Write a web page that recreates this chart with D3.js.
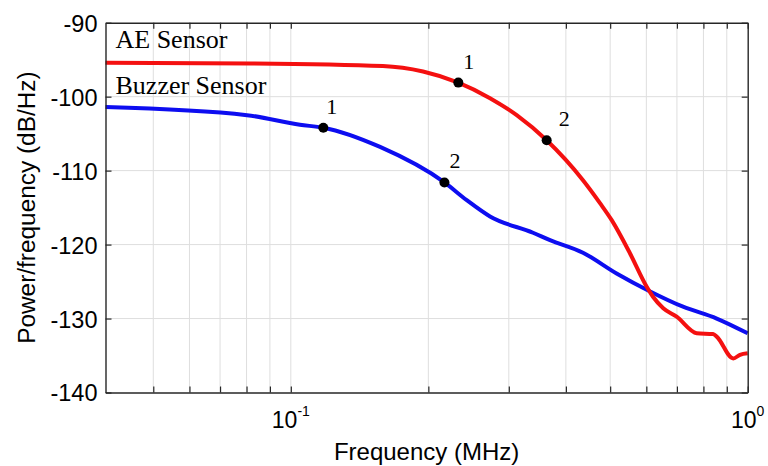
<!DOCTYPE html>
<html>
<head>
<meta charset="utf-8">
<script src="https://cdn.jsdelivr.net/npm/d3@7"></script>
<style>
  body { margin: 0; background: #fff; }
  svg { display: block; }
  .tick-lbl, .axis-label { font-family: "Liberation Sans", Arial, sans-serif; fill: #000; }
  .serif { font-family: "Liberation Serif", "Times New Roman", serif; fill: #000; }
</style>
</head>
<body>
<svg width="768" height="466"></svg>
<script>
(function (d3) {
  'use strict';

  // AE sensor PSD (frequency in MHz, power in dB/Hz)
  const aeFreq = [0.0393, 0.0814, 0.159, 0.1947, 0.2326, 0.2729, 0.3122, 0.3631, 0.436, 0.475,
    0.5039, 0.5527, 0.6011, 0.6205, 0.6534, 0.699, 0.7733, 0.8397, 0.8554, 0.93, 0.9619, 1.0];
  const aePsd = [-95.4, -95.5, -95.85, -96.6, -98.1, -100.2, -102.5, -105.9, -111.3, -114.4,
    -116.7, -121.2, -125.7, -127.05, -128.6, -129.75, -131.99, -132.1, -132.45, -135.4, -134.9, -134.7];

  // Buzzer sensor PSD
  const buzFreq = [0.0393, 0.0802, 0.1047, 0.1178, 0.1568, 0.2169, 0.2427, 0.2729, 0.3389, 0.3693,
    0.436, 0.5164, 0.6101, 0.7219, 0.8554, 1.0];
  const buzPsd = [-101.4, -102.5, -103.8, -104.2, -106.8, -111.6, -114.0, -116.2, -118.4, -119.4,
    -121.1, -123.9, -126.3, -128.4, -130.0, -132.0];

  // marked points
  const aeMarkFreq = [0.2326, 0.3631];
  const aeMarkPsd = [-98.1, -105.9];
  const buzMarkFreq = [0.1178, 0.2169];
  const buzMarkPsd = [-104.2, -111.6];
  const markLabels = ['1', '2'];

  const yTicks = [-140, -130, -120, -110, -100, -90];
  const xMajor = [0.1, 1];
  const xMinor = [0.05, 0.06, 0.07, 0.08, 0.09, 0.1, 0.2, 0.3, 0.4, 0.5, 0.6, 0.7, 0.8, 0.9, 1];
  const xExp = ['-1', '0'];

  const svg = d3.select('svg');
  const width = +svg.attr('width');
  const height = +svg.attr('height');
  const margin = { top: 22.7, right: 20.3, bottom: 73.5, left: 105.5 };
  const innerWidth = width - margin.left - margin.right;
  const innerHeight = height - margin.top - margin.bottom;

  const xScale = d3.scaleLog().domain([0.0393, 1]).range([0, innerWidth]);
  const yScale = d3.scaleLinear().domain([-140, -90]).range([innerHeight, 0]);

  const g = svg.append('g')
    .attr('transform', `translate(${margin.left},${margin.top})`);

  // grid
  g.append('g').selectAll('line').data(xMinor.filter(d => d < 1))
    .enter().append('line')
      .attr('x1', d => xScale(d)).attr('x2', d => xScale(d))
      .attr('y1', 0).attr('y2', innerHeight)
      .attr('stroke', '#dedede').attr('stroke-width', 1);
  g.append('g').selectAll('line').data(yTicks.filter(d => d > -140 && d < -90))
    .enter().append('line')
      .attr('x1', 0).attr('x2', innerWidth)
      .attr('y1', d => yScale(d)).attr('y2', d => yScale(d))
      .attr('stroke', '#dedede').attr('stroke-width', 1);

  // lines
  const line = d3.line()
    .x(d => xScale(d[0]))
    .y(d => yScale(d[1]))
    .curve(d3.curveMonotoneX);

  const aeData = aeFreq.map((f, i) => [f, aePsd[i]]);
  const buzData = buzFreq.map((f, i) => [f, buzPsd[i]]);

  g.append('path').datum(buzData)
    .attr('d', line)
    .attr('fill', 'none').attr('stroke', '#0d0df0').attr('stroke-width', 4);
  g.append('path').datum(aeData)
    .attr('d', line)
    .attr('fill', 'none').attr('stroke', '#f41010').attr('stroke-width', 4);

  // markers
  const marks = aeMarkFreq.map((f, i) => ({ f, p: aeMarkPsd[i], t: markLabels[i], dx: i ? 12 : 5 }))
    .concat(buzMarkFreq.map((f, i) => ({ f, p: buzMarkPsd[i], t: markLabels[i], dx: i ? 5 : 3 })));
  g.selectAll('circle.mark').data(marks)
    .enter().append('circle')
      .attr('class', 'mark')
      .attr('cx', d => xScale(d.f))
      .attr('cy', d => yScale(d.p))
      .attr('r', 5)
      .attr('fill', '#000');
  g.selectAll('text.mark').data(marks)
    .enter().append('text')
      .attr('class', 'mark serif')
      .attr('x', d => xScale(d.f) + d.dx)
      .attr('y', d => yScale(d.p) - 14)
      .attr('font-size', 22)
      .text(d => d.t);

  // legend labels
  g.append('text').attr('class', 'serif')
    .attr('x', 10).attr('y', 25.6).attr('font-size', 26)
    .text('AE Sensor');
  g.append('text').attr('class', 'serif')
    .attr('x', 10).attr('y', 71.3).attr('font-size', 26)
    .text('Buzzer Sensor');

  // axes
  const axisColor = '#262626';
  const styleAxis = sel => {
    sel.select('.domain').attr('stroke', axisColor).attr('stroke-width', 1.4);
    sel.selectAll('.tick line').attr('stroke', axisColor).attr('stroke-width', 1.2);
  };

  const yAxisG = g.append('g')
    .call(d3.axisLeft(yScale).tickValues(yTicks).tickSize(-6).tickSizeOuter(0).tickPadding(8)
      .tickFormat(d => String(d)));
  styleAxis(yAxisG);
  yAxisG.selectAll('text')
    .attr('class', 'tick-lbl')
    .attr('font-size', 23.5)
    .attr('dy', '0.36em');

  g.append('g').attr('transform', `translate(${innerWidth},0)`)
    .call(d3.axisRight(yScale).tickValues(yTicks).tickSize(-6).tickSizeOuter(0).tickFormat(''))
    .call(styleAxis);

  g.append('g')
    .call(d3.axisTop(xScale).tickValues(xMinor).tickSize(-6).tickSizeOuter(0).tickFormat(''))
    .call(styleAxis);

  const xAxisG = g.append('g').attr('transform', `translate(0,${innerHeight})`)
    .call(d3.axisBottom(xScale).tickValues(xMinor).tickSize(-6).tickSizeOuter(0).tickFormat(''));
  styleAxis(xAxisG);

  xAxisG.selectAll('.major-lbl').data(xMajor)
    .enter().append('text')
      .attr('class', 'tick-lbl major-lbl')
      .attr('x', d => xScale(d))
      .attr('y', 35)
      .attr('text-anchor', 'middle')
      .attr('font-size', 23)
      .each(function (d, i) {
        const t = d3.select(this);
        t.append('tspan').text('10');
        t.append('tspan').attr('dy', -12).attr('font-size', 14).text(xExp[i]);
      });

  g.append('text')
    .attr('class', 'axis-label')
    .attr('x', innerWidth / 2)
    .attr('y', innerHeight + 68)
    .attr('text-anchor', 'middle')
    .attr('font-size', 24)
    .text('Frequency (MHz)');

  g.append('text')
    .attr('class', 'axis-label')
    .attr('transform', `translate(${35 - margin.left},${innerHeight / 2}) rotate(-90)`)
    .attr('text-anchor', 'middle')
    .attr('font-size', 24.4)
    .text('Power/frequency (dB/Hz)');

}(d3));
</script>
</body>
</html>
